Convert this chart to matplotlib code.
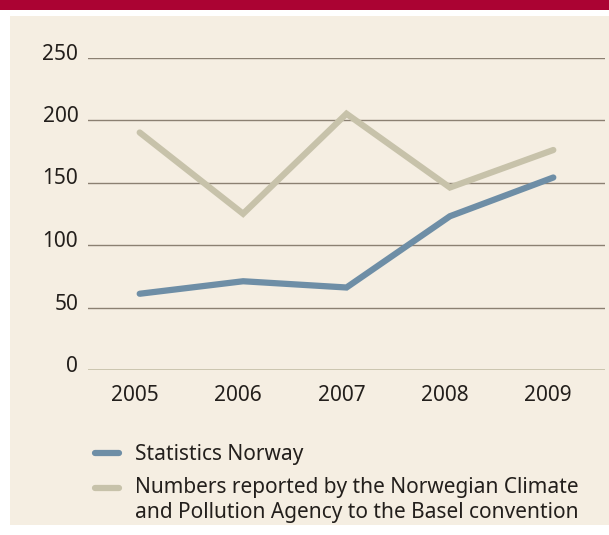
"""Hazardous waste exports: Statistics Norway vs. Basel convention reports."""

import matplotlib
matplotlib.use("Agg")
import matplotlib.pyplot as plt
from matplotlib.patches import Rectangle
from matplotlib.lines import Line2D
from matplotlib.legend_handler import HandlerLine2D
from matplotlib.transforms import ScaledTranslation

years = [2005, 2006, 2007, 2008, 2009]
statistics_norway = [61, 71, 66, 123, 154]
basel_reported = [190, 125, 205, 146, 176]
yticks = [0, 50, 100, 150, 200, 250]

label_ssb = "Statistics Norway"
label_basel = ("Numbers reported by the Norwegian Climate\n"
               "and Pollution Agency to the Basel convention")

BLUE = "#6e8ea6"
BEIGE_LINE = "#c7c2aa"
BACKGROUND = "#f5eee2"
RED = "#ab0333"
GRID = "#8b8072"
TEXT = "#231f1c"
FS = 15

plt.rcParams["font.family"] = ["Noto Sans", "DejaVu Sans"]
plt.rcParams["font.size"] = FS


class FirstLineHandler(HandlerLine2D):
    """Put the legend line next to the first row of a two-row label."""

    def __init__(self, lift=0, **kw):
        super().__init__(**kw)
        self.lift = lift

    def create_artists(self, legend, orig_handle, xdescent, ydescent,
                       width, height, fontsize, trans):
        artists = super().create_artists(legend, orig_handle, xdescent,
                                          ydescent, width, height,
                                          fontsize, trans)
        for a in artists:
            a.set_ydata([y + self.lift for y in a.get_ydata()])
        return artists


W, H = 609, 535
fig = plt.figure(figsize=(W / 100, H / 100), dpi=100)

# page decoration: red bar on top, beige panel behind the chart
fig.patches.append(Rectangle((0, 525 / H), 1, 10 / H, transform=fig.transFigure,
                             facecolor=RED, edgecolor="none", zorder=-2))
fig.patches.append(Rectangle((10 / W, 10 / H), 599 / W, 509 / H,
                             transform=fig.transFigure, facecolor=BACKGROUND,
                             edgecolor="none", zorder=-2))

ax = fig.add_axes([88 / W, (H - 370) / H, (605 - 88) / W, (370 - 57.5) / H])
ax.set_facecolor("none")

ax.plot(years, basel_reported, color=BEIGE_LINE, lw=4.5,
        solid_capstyle="round", solid_joinstyle="miter", clip_on=False, zorder=3)
ax.plot(years, statistics_norway, color=BLUE, lw=4.5,
        solid_capstyle="round", solid_joinstyle="miter", clip_on=False, zorder=4)

ax.set_xlim(2004.5, 2009.5)
ax.set_ylim(0, 250)
ax.set_xticks(years)
ax.set_yticks(yticks)

for gy in yticks[1:]:
    ax.axhline(gy, color=GRID, lw=1.0, zorder=1)
ax.axhline(0, color=BEIGE_LINE, lw=2.0, zorder=1)

for side in ax.spines.values():
    side.set_visible(False)
ax.tick_params(axis="both", length=0, colors=TEXT, labelsize=FS)
ax.tick_params(axis="x", pad=11)
ax.tick_params(axis="y", pad=7)

shift_x = ScaledTranslation(-5 / 100, 0, fig.dpi_scale_trans)
for lbl in ax.get_xticklabels():
    lbl.set_transform(lbl.get_transform() + shift_x)
shift_y = ScaledTranslation(0, -2 / 100, fig.dpi_scale_trans)
for lbl in ax.get_yticklabels():
    lbl.set_verticalalignment("baseline")
    lbl.set_transform(lbl.get_transform() + shift_y)

h_ssb = Line2D([], [], color=BLUE, lw=4.5, solid_capstyle="round")
h_basel = Line2D([], [], color=BEIGE_LINE, lw=4.5, solid_capstyle="round")
fig.legend([h_ssb, h_basel], [label_ssb, label_basel], loc="upper left",
           bbox_to_anchor=(95 / W, (H - 444) / H), frameon=False,
           borderpad=0, borderaxespad=0, handlelength=1.13,
           handletextpad=0.78, labelspacing=0.6, fontsize=FS,
           labelcolor=TEXT,
           handler_map={h_basel: FirstLineHandler(lift=9)})

fig.savefig("out.png", dpi=100)
